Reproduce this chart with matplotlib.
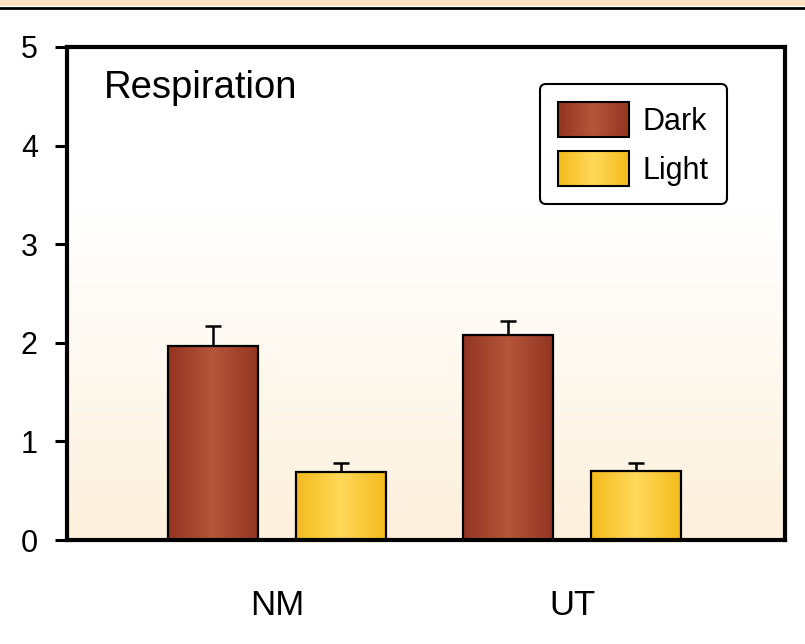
import numpy as np
import matplotlib
matplotlib.use("Agg")
import matplotlib.pyplot as plt
from matplotlib.patches import Rectangle, Patch
from matplotlib.legend_handler import HandlerPatch
from matplotlib.colors import LinearSegmentedColormap
from matplotlib.lines import Line2D

plt.rcParams['font.family'] = ['Liberation Sans', 'DejaVu Sans']

# data
groups = ['NM', 'UT']
series = ['Dark', 'Light']
dark_vals = [1.97, 2.08]
dark_err = [0.20, 0.14]
light_vals = [0.69, 0.70]
light_err = [0.09, 0.08]
yticks = [0, 1, 2, 3, 4, 5]

# shading: edge -> centre -> edge
dark_shades = ['#933522', '#b5553a', '#933522']
light_shades = ['#f4bb1c', '#ffd95a', '#f4bb1c']


def shade_cmap(cols):
    return LinearSegmentedColormap.from_list('s', cols)


class GradientHandler(HandlerPatch):
    def __init__(self, cols, n=40):
        super().__init__()
        self.cols = cols
        self.n = n

    def create_artists(self, legend, orig_handle, xdescent, ydescent,
                       width, height, fontsize, trans):
        cmap = shade_cmap(self.cols)
        arts = []
        step = width / self.n
        for i in range(self.n):
            r = Rectangle((-xdescent + i * step, -ydescent), step * 1.05, height,
                          facecolor=cmap(i / (self.n - 1)), edgecolor='none',
                          transform=trans)
            arts.append(r)
        arts.append(Rectangle((-xdescent, -ydescent), width, height,
                              facecolor='none', edgecolor='black', lw=1.5,
                              transform=trans))
        return arts


fig = plt.figure(figsize=(8.05, 6.44), dpi=100)
fig.patch.set_facecolor('white')

# header strip
fig.patches.append(Rectangle((0, 1 - 6 / 644), 1, 6 / 644, transform=fig.transFigure,
                             facecolor='#fde3c4', edgecolor='none'))
fig.lines.append(Line2D([0, 1], [1 - 7.5 / 644] * 2, transform=fig.transFigure,
                        color='black', lw=2))

ax = fig.add_axes([67 / 805, 104 / 644, 718 / 805, 493 / 644])

x = np.arange(len(groups))
w = 0.305
off = 0.217
ax.set_xlim(-0.712, 1.722)
ax.set_ylim(0, 5)

# background gradient, white at top to cream at bottom
grad = np.linspace(0, 1, 256).reshape(-1, 1)
bg = LinearSegmentedColormap.from_list('bg', ['#fdf0dc', '#fef8ee', '#ffffff', '#ffffff'])
ax.imshow(grad, cmap=bg, aspect='auto', extent=[-0.712, 1.722, 0, 5],
          origin='lower', zorder=0)

hgrad = np.linspace(0, 1, 200).reshape(1, -1)
for vals, errs, pos, cols in [(dark_vals, dark_err, x - off, dark_shades),
                              (light_vals, light_err, x + off, light_shades)]:
    bars = ax.bar(pos, vals, width=w, facecolor='none', edgecolor='black',
                  lw=1.6, zorder=3)
    for b in bars:
        x0, h = b.get_x(), b.get_height()
        ax.imshow(hgrad, cmap=shade_cmap(cols), aspect='auto',
                  extent=[x0, x0 + b.get_width(), 0, h], zorder=2)
    eb = ax.errorbar(pos, vals, yerr=[np.zeros(len(errs)), errs], fmt='none',
                     ecolor='black', elinewidth=1.8, capsize=6, capthick=1.8, zorder=2.5)
    # upper error only: drop the cap sitting on the bar top
    for cap in eb[1]:
        if np.allclose(cap.get_ydata(), vals):
            cap.set_visible(False)

ax.set_xlim(-0.712, 1.722)
ax.set_ylim(0, 5)

for s in ax.spines.values():
    s.set_linewidth(3)
    s.set_zorder(4)

ax.set_yticks(yticks)
ax.set_yticklabels([str(t) for t in yticks])
ax.tick_params(axis='y', direction='out', length=9, width=2.2, labelsize=22, pad=12)
ax.set_xticks(x)
ax.set_xticklabels(groups)
ax.tick_params(axis='x', length=0, labelsize=25, pad=35)

ax.text(0.0515, 0.8966, 'Respiration', transform=ax.transAxes, fontsize=27.5,
        ha='left', va='baseline')

h_dark = Patch(label=series[0])
h_light = Patch(label=series[1])
leg = ax.legend(handles=[h_dark, h_light], loc='upper right',
                bbox_to_anchor=(727 / 805, 1 - 84 / 644), bbox_transform=fig.transFigure,
                fontsize=22, handlelength=2.3, handleheight=1.38, labelspacing=0.45,
                handletextpad=0.46, borderpad=0.6, borderaxespad=0, fancybox=True,
                framealpha=1, edgecolor='black',
                handler_map={h_dark: GradientHandler(dark_shades),
                             h_light: GradientHandler(light_shades)})
leg.get_frame().set_linewidth(1.5)
leg.set_zorder(5)

fig.savefig('out.png', dpi=100)
